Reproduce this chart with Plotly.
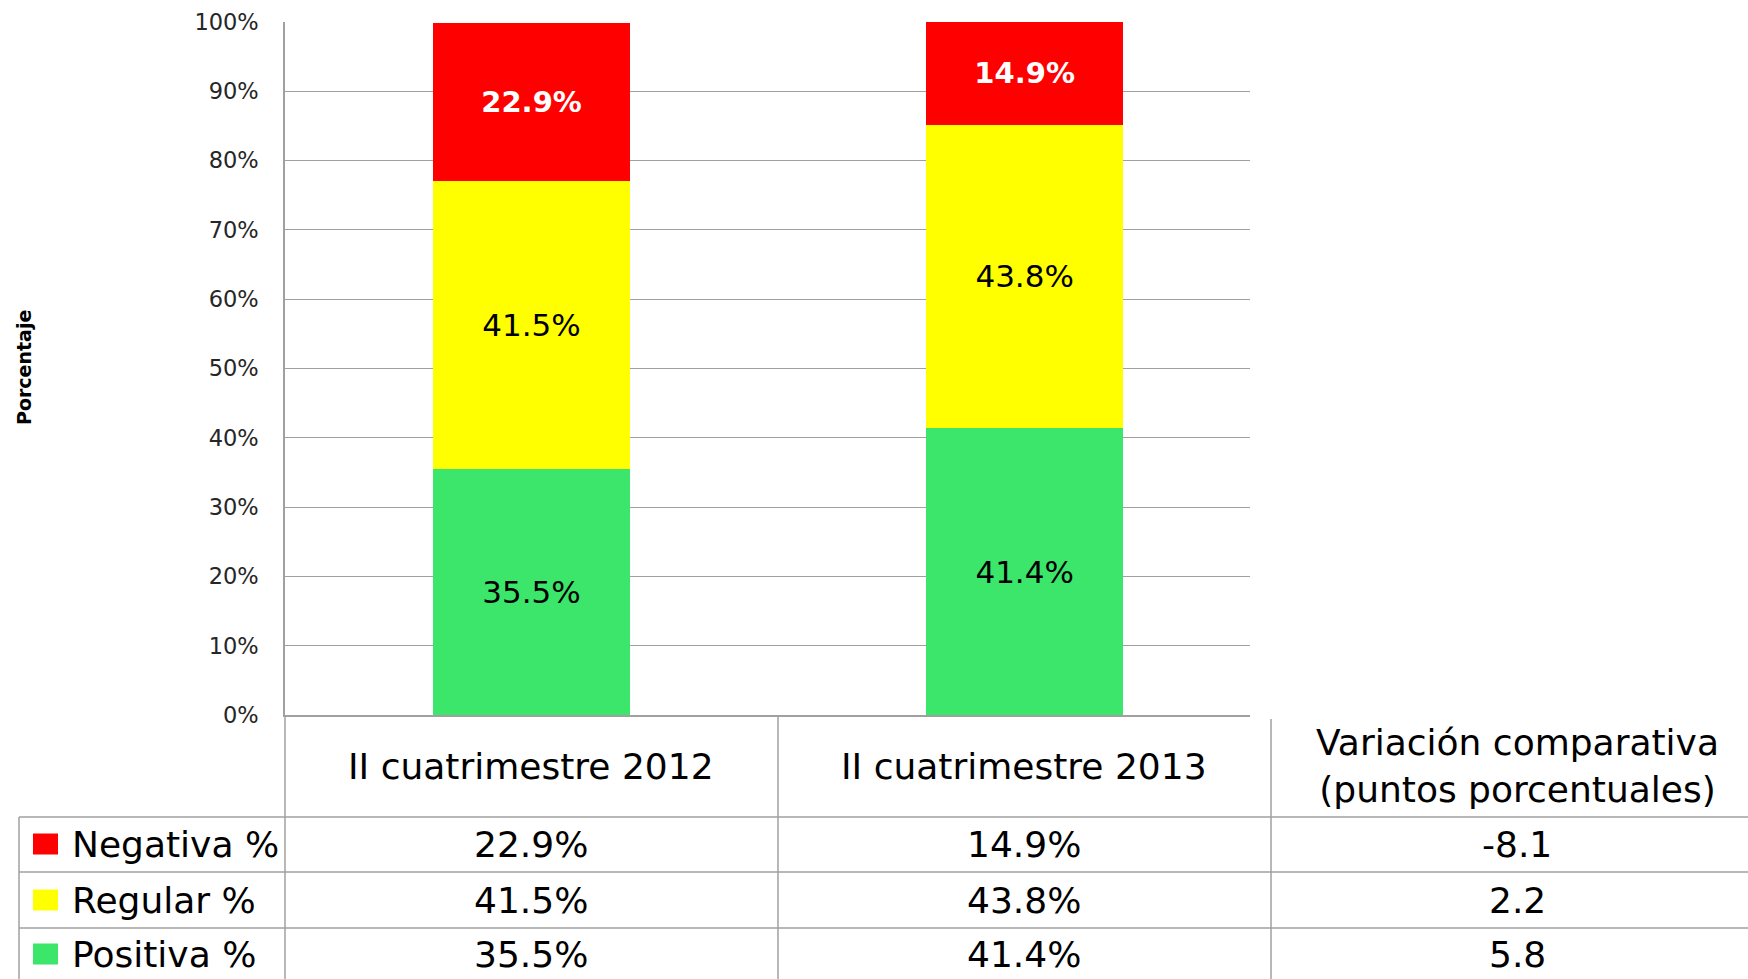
import plotly.graph_objects as go

# ---------------- data ----------------
periods = ["II cuatrimestre 2012", "II cuatrimestre 2013"]
series_names = ["Negativa %", "Regular %", "Positiva %"]
negativa = [22.9, 14.9]
regular = [41.5, 43.8]
positiva = [35.5, 41.4]
variacion = [-8.1, 2.2, 5.8]
variacion_header = "Variación comparativa<br>(puntos porcentuales)"
y_title = "Porcentaje"
y_ticks = list(range(0, 101, 10))

# ---------------- styles ----------------
W, H = 1748, 979
RED, YELLOW, GREEN = "#FF0000", "#FFFF00", "#3BE66B"
GRID = "#A0A0A0"
FONT = "DejaVu Sans"


def px_x(x):
    return x / W


def px_y(y):
    return 1 - y / H


fig = go.Figure()

trace_specs = [
    ("Positiva %", positiva, GREEN, dict(color="black", size=31, family=FONT)),
    ("Regular %", regular, YELLOW, dict(color="black", size=31, family=FONT)),
    ("Negativa %", negativa, RED, dict(color="white", size=29, family=FONT, weight="bold")),
]
for name, vals, col, tf in trace_specs:
    fig.add_trace(go.Bar(
        x=periods, y=vals, name=name, marker=dict(color=col, line=dict(width=0)),
        width=0.40, texttemplate="%{y:.1f}%", textposition="inside",
        insidetextanchor="middle", textfont=tf, constraintext="none",
        textangle=0, hoverinfo="skip",
    ))

fig.update_layout(
    width=W, height=H, barmode="stack", showlegend=False, autosize=False,
    margin=dict(l=0, r=0, t=0, b=0, pad=0),
    plot_bgcolor="white", paper_bgcolor="white",
    xaxis=dict(domain=[px_x(285), px_x(1250)], type="category",
               range=[-0.5, 1.457], showticklabels=False, showgrid=False,
               showline=True, linecolor=GRID, linewidth=1.5, zeroline=False,
               fixedrange=True, automargin=False),
    yaxis=dict(domain=[px_y(715), px_y(22)], range=[0, 100], tickvals=y_ticks,
               ticktext=[f"{v}%" for v in y_ticks], showgrid=True, gridcolor=GRID,
               gridwidth=1.2, showline=True, linecolor=GRID, linewidth=1.5,
               zeroline=False, tickfont=dict(family=FONT, size=22.5, color="#262626"),
               ticklabelstandoff=20, fixedrange=True, automargin=False),
)

shapes = []
annotations = []

# axis title
annotations.append(dict(x=px_x(24), y=px_y(368), xref="paper", yref="paper",
                        text=f"<b>{y_title}</b>", textangle=-90, showarrow=False,
                        font=dict(family=FONT, size=19, color="black"),
                        xanchor="center", yanchor="middle"))


def line(x0, y0, x1, y1):
    shapes.append(dict(type="line", xref="paper", yref="paper",
                       x0=px_x(x0), y0=px_y(y0), x1=px_x(x1), y1=px_y(y1),
                       line=dict(color=GRID, width=1.5)))


# table grid
row_lines = [817, 872, 928]
for ry in row_lines:
    line(19, ry, W, ry)
line(19, 817, 19, H)
line(285, 715, 285, H)
line(778, 715, 778, H)
line(1271, 719, 1271, H)

col_centers = [531, 1024, 1517]
header_y = 766
row_centers = [844, 900, 954]

tfont = dict(family=FONT, size=36, color="black")
for cx, label in zip(col_centers[:2], periods):
    annotations.append(dict(x=px_x(cx), y=px_y(header_y), xref="paper", yref="paper",
                            text=label, showarrow=False, font=tfont,
                            xanchor="center", yanchor="middle"))
annotations.append(dict(x=px_x(col_centers[2]), y=px_y(header_y), xref="paper", yref="paper",
                        text=variacion_header, showarrow=False, font=tfont,
                        xanchor="center", yanchor="middle"))

row_data = [negativa, regular, positiva]
row_colors = [RED, YELLOW, GREEN]
for i, (name, vals, col, ry) in enumerate(zip(series_names, row_data, row_colors, row_centers)):
    shapes.append(dict(type="rect", xref="paper", yref="paper",
                       x0=px_x(33), x1=px_x(58), y0=px_y(ry - 10.5), y1=px_y(ry + 10.5),
                       fillcolor=col, line=dict(width=0)))
    annotations.append(dict(x=px_x(70), y=px_y(ry), xref="paper", yref="paper",
                            text=name, showarrow=False, font=tfont,
                            xanchor="left", yanchor="middle"))
    for cx, v in zip(col_centers[:2], vals):
        annotations.append(dict(x=px_x(cx), y=px_y(ry), xref="paper", yref="paper",
                                text=f"{v:.1f}%", showarrow=False, font=tfont,
                                xanchor="center", yanchor="middle"))
    annotations.append(dict(x=px_x(col_centers[2]), y=px_y(ry), xref="paper", yref="paper",
                            text=f"{variacion[i]:.1f}", showarrow=False, font=tfont,
                            xanchor="center", yanchor="middle"))

fig.update_layout(shapes=shapes, annotations=annotations)
fig.write_html(
    "out.html",
    config={"displayModeBar": False},
    post_script="document.body.style.margin='0';document.body.style.overflow='hidden';",
)
